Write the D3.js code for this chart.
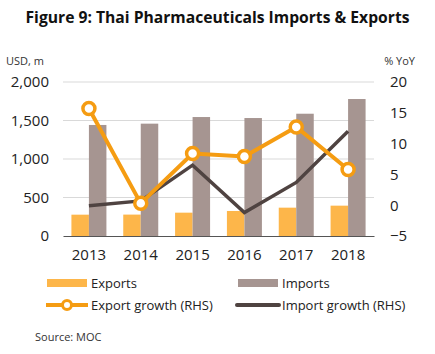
<!DOCTYPE html>
<html>
<head>
<meta charset="utf-8">
<script src="https://cdn.jsdelivr.net/npm/d3@7"></script>
<style>
  body { margin: 0; background: #fff; }
  text { font-family: "Open Sans", "Noto Sans", sans-serif; }
</style>
</head>
<body>
<script>
// chart data
var years = ["2013", "2014", "2015", "2016", "2017", "2018"];
var exportsUsd = [277, 278, 303, 325, 368, 394];
var importsUsd = [1442, 1459, 1545, 1532, 1588, 1779];
var exportGrowth = [15.7, 0.3, 8.4, 7.9, 12.7, 5.8];
var importGrowth = [-0.1, 0.7, 6.5, -1.2, 3.7, 12.0];
var leftTicks = [0, 500, 1000, 1500, 2000];
var rightTicks = [-5, 0, 5, 10, 15, 20];

var W = 435, H = 354;
var margin = {top: 82, right: 61, bottom: 118, left: 63},
    width = W - margin.left - margin.right,
    height = H - margin.top - margin.bottom;

var svg = d3.select("body").append("svg")
    .attr("width", W)
    .attr("height", H);

// title
svg.append("text")
    .attr("x", W / 2)
    .attr("y", 23)
    .attr("text-anchor", "middle")
    .style("font-weight", "bold")
    .style("font-size", "16px")
    .attr("textLength", 384)
    .attr("lengthAdjust", "spacingAndGlyphs")
    .attr("fill", "#111")
    .text("Figure 9: Thai Pharmaceuticals Imports & Exports");

svg.append("text")
    .attr("x", 6).attr("y", 65)
    .style("font-size", "11px").attr("fill", "#333")
    .text("USD, m");

svg.append("text")
    .attr("x", 415).attr("y", 65)
    .attr("text-anchor", "end")
    .style("font-size", "11px").attr("fill", "#333")
    .text("% YoY");

var g = svg.append("g")
    .attr("transform", "translate(" + margin.left + "," + margin.top + ")");

var x = d3.scaleBand().domain(years).range([0, width]).padding(0);
var x1 = d3.scaleBand().domain(["exp", "imp"]).range([0, 35])
    .paddingInner(0);
var yL = d3.scaleLinear().domain([0, 2000]).range([height, 0]);
var yR = d3.scaleLinear().domain([-5, 20]).range([height, 0]);

// gridlines
g.selectAll(".grid")
    .data(leftTicks.slice(1))
    .enter().append("line")
    .attr("x1", 0).attr("x2", width)
    .attr("y1", d => yL(d)).attr("y2", d => yL(d))
    .attr("stroke", "#d9d9d9").attr("stroke-width", 1);

// left axis
var leftAxis = d3.axisLeft(yL).tickValues(leftTicks)
    .tickFormat(d3.format(",")).tickSize(0).tickPadding(14);
g.append("g").call(leftAxis)
    .call(a => a.select(".domain").remove())
    .selectAll("text")
    .style("font-size", "15px").attr("fill", "#222")
    .style("font-family", "'Open Sans', sans-serif");

// right axis
var rightAxis = d3.axisRight(yR).tickValues(rightTicks)
    .tickSize(0).tickPadding(16);
g.append("g").attr("transform", "translate(" + width + ",0)")
    .call(rightAxis)
    .call(a => a.select(".domain").remove())
    .selectAll("text")
    .style("font-size", "15px").attr("fill", "#222")
    .style("font-family", "'Open Sans', sans-serif");

// bars
var grp = g.selectAll(".yr")
    .data(years)
    .enter().append("g")
    .attr("transform", d => "translate(" + (x(d) + x.bandwidth() / 2 - 17.5) + ",0)");

grp.append("rect")
    .attr("x", x1("exp"))
    .attr("width", x1.bandwidth())
    .attr("y", (d, i) => yL(exportsUsd[i]))
    .attr("height", (d, i) => height - yL(exportsUsd[i]))
    .attr("fill", "#fdb64a");

grp.append("rect")
    .attr("x", x1("imp"))
    .attr("width", x1.bandwidth())
    .attr("y", (d, i) => yL(importsUsd[i]))
    .attr("height", (d, i) => height - yL(importsUsd[i]))
    .attr("fill", "#a69591");

// x axis
var bottomAxis = d3.axisBottom(x).tickSize(0).tickPadding(13);
g.append("g").attr("transform", "translate(0," + height + ")")
    .call(bottomAxis)
    .call(a => a.select(".domain").attr("stroke", "#555").attr("stroke-width", 1.2))
    .selectAll("text")
    .style("font-size", "15px").attr("fill", "#222")
    .style("font-family", "'Open Sans', sans-serif");

// lines
var cx = d => x(d) + x.bandwidth() / 2;

var growthLine = d3.line()
    .x((d, i) => cx(years[i]))
    .y(d => yR(d));

g.append("path")
    .datum(importGrowth)
    .attr("d", growthLine)
    .attr("fill", "none")
    .attr("stroke", "#4f4341")
    .attr("stroke-width", 3.5);

g.append("path")
    .datum(exportGrowth)
    .attr("d", growthLine)
    .attr("fill", "none")
    .attr("stroke", "#f59c12")
    .attr("stroke-width", 4);

g.selectAll(".dot")
    .data(exportGrowth)
    .enter().append("circle")
    .attr("cx", (d, i) => cx(years[i]))
    .attr("cy", d => yR(d))
    .attr("r", 6)
    .attr("fill", "#fff")
    .attr("stroke", "#f59c12")
    .attr("stroke-width", 3.5);

// legend
var lg = svg.append("g").style("font-size", "13px");

lg.append("rect").attr("x", 47).attr("y", 279).attr("width", 40).attr("height", 8)
    .attr("fill", "#fdb64a");
lg.append("text").attr("x", 91).attr("y", 288).attr("fill", "#222").text("Exports");

lg.append("rect").attr("x", 238).attr("y", 279).attr("width", 40).attr("height", 8)
    .attr("fill", "#a69591");
lg.append("text").attr("x", 282).attr("y", 288).attr("fill", "#222").text("Imports");

lg.append("line").attr("x1", 46).attr("x2", 88).attr("y1", 305).attr("y2", 305)
    .attr("stroke", "#f59c12").attr("stroke-width", 4);
lg.append("circle").attr("cx", 67).attr("cy", 305).attr("r", 4.5)
    .attr("fill", "#fff").attr("stroke", "#f59c12").attr("stroke-width", 3);
lg.append("text").attr("x", 91).attr("y", 310).attr("fill", "#222").text("Export growth (RHS)");

lg.append("line").attr("x1", 237).attr("x2", 279).attr("y1", 305).attr("y2", 305)
    .attr("stroke", "#4f4341").attr("stroke-width", 4).attr("stroke-linecap", "round");
lg.append("text").attr("x", 282).attr("y", 310).attr("fill", "#222").text("Import growth (RHS)");

svg.append("text").attr("x", 35).attr("y", 341)
    .style("font-size", "11px").attr("fill", "#333")
    .text("Source: MOC");
</script>
</body>
</html>
